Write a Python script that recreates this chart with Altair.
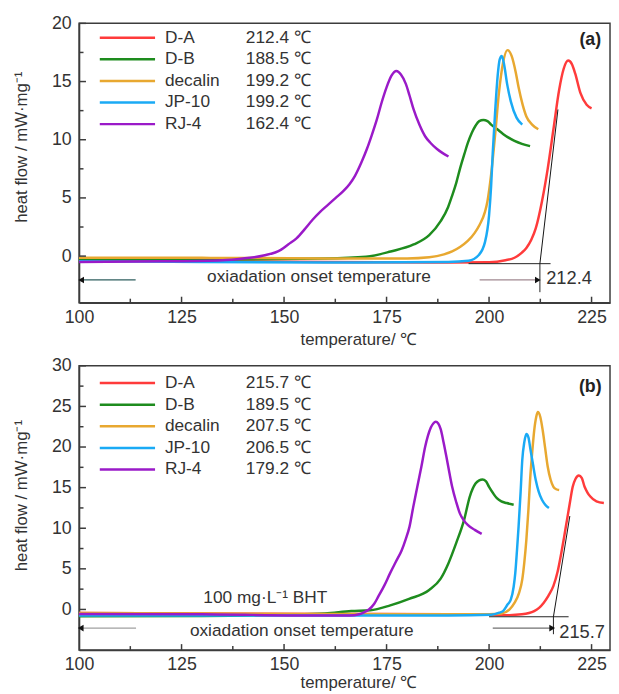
import altair as alt
import pandas as pd

FONT = "Liberation Sans"
TEXT = "#333333"
FRAME = "#3c3c3c"

names = ["D-A", "D-B", "decalin", "JP-10", "RJ-4"]
colors = ["#ff3b3b", "#1e8c1e", "#e8a830", "#1aaaf5", "#9a1ac8"]
onset_a = ["212.4 ℃", "188.5 ℃", "199.2 ℃", "199.2 ℃", "162.4 ℃"]
onset_b = ["215.7 ℃", "189.5 ℃", "207.5 ℃", "206.5 ℃", "179.2 ℃"]

# ---------------- panel (a) curves ----------------
a_DA_T = [100, 130, 160, 190, 200, 204, 206.2, 208, 209.1, 210.3, 211.4, 212.9, 214.3, 215.7, 217.1, 218.2, 219.3, 220.2, 221, 222.3, 223.8, 225]
a_DA_V = [-0.40, -0.45, -0.50, -0.55, -0.52, -0.35, -0.14, 0.3, 0.7, 1.4, 2.4, 4.7, 7.5, 10.9, 14.3, 16.1, 16.8, 16.5, 15.7, 14.0, 13.0, 12.7]
a_DB_T = [100, 130, 160, 170, 176, 181.6, 185.4, 188.2, 190, 191, 192, 192.9, 194, 194.8, 195.8, 196.7, 197.6, 198.6, 199.6, 200.5, 202, 203.4, 206.2, 208, 210]
a_DB_V = [-0.3, -0.3, -0.2, -0.05, 0.4, 1.0, 1.8, 3.0, 4.2, 5.2, 6.3, 7.5, 8.8, 9.7, 10.6, 11.2, 11.6, 11.7, 11.6, 11.3, 10.9, 10.5, 9.9, 9.65, 9.45]
a_DEC_T = [100, 130, 160, 180, 185.4, 189, 191, 193, 194.8, 196.5, 197.7, 199, 199.6, 200.5, 201.5, 202.4, 203.4, 204.5, 205.5, 206.5, 207.2, 208.2, 209.1, 210.5, 212]
a_DEC_V = [-0.15, -0.15, -0.2, -0.2, -0.1, 0.15, 0.4, 0.8, 1.3, 2.0, 2.7, 3.8, 4.7, 7.0, 10.5, 14.0, 16.6, 17.7, 17.2, 15.8, 14.5, 13.0, 12.0, 11.3, 10.9]
a_JP_T = [100, 130, 160, 190, 195, 197.5, 199, 200, 200.5, 200.9, 201.5, 202.1, 202.6, 203.1, 203.7, 204.4, 205.3, 206.7, 208.1]
a_JP_V = [-0.45, -0.5, -0.55, -0.5, -0.4, 0.1, 1.2, 3.5, 6.0, 8.9, 12.5, 15.5, 16.9, 17.2, 16.4, 14.8, 13.3, 11.9, 11.3]
a_RJ_T = [100, 120, 135, 140, 145, 149.3, 151, 153.1, 155, 156.9, 158.8, 160.7, 162.6, 164.5, 166, 167.3, 168.8, 170.2, 171.4, 172.6, 173.8, 175, 176.2, 177.4, 178.5, 179.7, 180.6, 181.6, 183, 184.4, 185.8, 187.3, 188.7, 190.1]
a_RJ_V = [-0.5, -0.45, -0.35, -0.2, 0.05, 0.56, 1.0, 1.55, 2.3, 3.1, 3.8, 4.4, 5.0, 5.6, 6.2, 6.9, 8.0, 9.2, 10.4, 11.7, 13.2, 14.5, 15.5, 15.9, 15.6, 14.8, 13.8, 12.6, 11.3, 10.3, 9.7, 9.2, 8.85, 8.56]

# ---------------- panel (b) curves ----------------
b_DA_T = [100, 130, 160, 190, 200, 205, 208, 211, 212.2, 213.3, 214.5, 215.7, 216.7, 217.6, 218.3, 219, 219.7, 220.4, 221.1, 221.9, 222.6, 223.3, 224, 224.7, 226.2, 228]
b_DA_V = [-0.45, -0.5, -0.55, -0.6, -0.65, -0.7, -0.6, -0.2, 0.2, 0.8, 1.7, 2.9, 4.6, 6.9, 8.9, 11.0, 13.1, 15.1, 16.1, 16.5, 16.2, 15.1, 14.4, 13.9, 13.3, 13.1]
b_DB_T = [100, 130, 150, 160, 166.4, 171, 175.9, 180.5, 185.4, 188.2, 190.1, 192, 193.9, 195.3, 196.7, 197.6, 198.4, 199.2, 200, 201, 201.9, 203, 204.3, 206]
b_DB_V = [-0.85, -0.8, -0.65, -0.5, -0.2, -0.1, 0.5, 1.3, 2.4, 3.8, 5.7, 8.2, 11.0, 13.9, 15.5, 15.9, 16.0, 15.8, 15.1, 14.3, 13.7, 13.3, 13.1, 12.9]
b_DEC_T = [100, 130, 160, 190, 200, 203, 205, 206.2, 207.3, 208.1, 208.6, 209.1, 209.6, 210, 210.5, 211, 211.5, 211.9, 212.5, 213.1, 213.7, 214.3, 215, 215.7, 216.4, 217.1]
b_DEC_V = [-0.45, -0.5, -0.55, -0.6, -0.6, -0.5, 0.0, 0.8, 2.0, 3.7, 5.8, 8.6, 12.3, 15.9, 19.2, 22.0, 23.7, 24.3, 23.7, 22.0, 19.8, 17.6, 16.0, 15.1, 14.8, 14.7]
b_JP_T = [100, 130, 160, 190, 200.5, 202.5, 203.4, 204.5, 205.3, 206.0, 206.4, 206.8, 207.2, 207.7, 208.1, 208.6, 209.1, 209.6, 210, 210.7, 211.4, 212.1, 212.9, 213.7, 214.6]
b_JP_V = [-0.75, -0.75, -0.75, -0.75, -0.65, -0.4, -0.2, 0.6, 1.2, 2.8, 4.5, 7.2, 10.2, 14.5, 18.4, 20.6, 21.6, 21.2, 20.0, 17.9, 15.9, 14.5, 13.5, 12.9, 12.5]
b_RJ_T = [100, 130, 160, 166, 168.3, 169.5, 170.7, 172, 173, 174.5, 175.9, 177.3, 178.7, 179.7, 180.6, 181.5, 182.5, 183.5, 184.4, 185.1, 185.8, 186.4, 187, 187.6, 188.2, 188.9, 189.6, 190.3, 191, 192, 192.9, 193.8, 194.8, 196.5, 198.2]
b_RJ_V = [-0.55, -0.6, -0.75, -0.75, -0.6, -0.35, 0.0, 0.7, 1.6, 3.0, 4.5, 5.9, 7.3, 8.7, 10.2, 12.6, 15.1, 17.6, 20.0, 21.4, 22.4, 22.9, 23.1, 22.9, 22.2, 20.6, 18.8, 16.9, 15.1, 13.2, 11.8, 11.0, 10.4, 9.8, 9.3]

# onset construction lines (T, V)
a_base_T = [195, 215]
a_base_V = [-0.65, -0.65]
a_mark_T = [212.4, 212.4]
a_mark_V = [-0.65, -3.1]
a_tan_T = [212.4, 216.8]
a_tan_V = [-0.65, 12.6]
b_base_T = [200, 219.4]
b_base_V = [-0.9, -0.9]
b_mark_T = [215.7, 215.7]
b_mark_V = [-0.85, -3.05]
b_tan_T = [215.7, 219.7]
b_tan_V = [-0.9, 11.5]

# arrows: shaft start T, head T, level V
a_arrows_T0 = [113.8, 197.7]
a_arrows_T1 = [100.5, 211.9]
a_arrow_V = -2.05
b_arrows_T0 = [113.9, 200.9]
b_arrows_T1 = [100.4, 215.4]
b_arrow_V = -2.3
arrow_colors_a = ["#2f5f5f", "#a08890"]
arrow_colors_b = ["#a0a0a0", "#707070"]

x_major = [100, 125, 150, 175, 200, 225]
x_tick_major = [125, 150, 175, 200, 225]
x_tick_minor = [112.5, 137.5, 162.5, 187.5, 212.5]
a_y_major = [0, 5, 10, 15, 20]
a_y_minor = [2.5, 7.5, 12.5, 17.5]
b_y_major = [0, 5, 10, 15, 20, 25, 30]
b_y_minor = [2.5, 7.5, 12.5, 17.5, 22.5, 27.5]

W = 538


def curves_df(series):
    rows = []
    for name, ts, vs in series:
        for t, v in zip(ts, vs):
            rows.append({"S": name, "T": t, "V": v})
    return pd.DataFrame(rows)


def panel(series, onsets, ydom, H, y_major, y_minor, base, mark, tan,
          arrT0, arrT1, arrV, arr_cols, onset_text, onset_T, onset_V,
          ox_T, ox_V, tag, tag_y, title_y, leg_top, xt_pad, extra=None):
    xs = alt.Scale(domain=[100, 229.5], nice=False, zero=False)
    ys = alt.Scale(domain=ydom, nice=False, zero=False)
    cs = alt.Scale(domain=names, range=colors)

    X = lambda: alt.X("T:Q", scale=xs)
    Y = lambda: alt.Y("V:Q", scale=ys)

    lines = alt.Chart(curves_df(series)).mark_line(
        strokeWidth=2.5, interpolate="monotone"
    ).encode(
        x=alt.X("T:Q", scale=xs, axis=alt.Axis(
            values=x_major, title="temperature/ ℃", titleX=283, labelFlush=False,
            labelPadding=6, titlePadding=xt_pad)),
        y=alt.Y("V:Q", scale=ys, axis=alt.Axis(
            values=y_major, title="heat flow / mW·mg⁻¹", titleY=title_y,
            labelPadding=8, titlePadding=21, labelFlush=False)),
        color=alt.Color("S:N", scale=cs, legend=None),
        detail="S:N",
    )

    def seg(ts, vs, color, sw):
        return alt.Chart(pd.DataFrame({"T": ts, "V": vs})).mark_line(
            color=color, strokeWidth=sw
        ).encode(x=X(), y=Y())

    layers = [lines,
              seg(base[0], base[1], "#222222", 1),
              seg(mark[0], mark[1], "#222222", 1),
              seg(tan[0], tan[1], "#111111", 1)]

    arr_df = pd.DataFrame({"T": arrT0, "T2": arrT1, "V": [arrV] * 2, "c": arr_cols})
    layers.append(alt.Chart(arr_df).mark_rule(strokeWidth=1.2).encode(
        x=X(), x2="T2:Q", y=Y(),
        color=alt.Color("c:N", scale=None)))
    head_df = pd.DataFrame({"T": arrT1, "V": [arrV] * 2,
                            "shape": ["triangle-left", "triangle-right"]})
    layers.append(alt.Chart(head_df).mark_point(
        filled=True, color="#111111", size=45, opacity=1).encode(
        x=X(), y=Y(), shape=alt.Shape("shape:N", scale=None)))

    # text annotations
    ann = pd.DataFrame({"T": [ox_T], "V": [ox_V], "txt": ["oxiadation onset temperature"]})
    layers.append(alt.Chart(ann).mark_text(font=FONT, fontSize=17.5, color=TEXT).encode(
        x=X(), y=Y(), text="txt:N"))
    on = pd.DataFrame({"T": [onset_T], "V": [onset_V], "txt": [onset_text]})
    layers.append(alt.Chart(on).mark_text(font=FONT, fontSize=18.5, color=TEXT).encode(
        x=X(), y=Y(), text="txt:N"))
    if extra is not None:
        ex = pd.DataFrame({"T": [extra[0]], "V": [extra[1]], "txt": [extra[2]]})
        layers.append(alt.Chart(ex).mark_text(font=FONT, fontSize=17.5, color=TEXT, align="left").encode(
            x=X(), y=Y(), text="txt:N"))

    # inward ticks
    def xt(vals, ln):
        return alt.Chart(pd.DataFrame({"T": vals})).mark_rule(color=FRAME, strokeWidth=1.5).encode(
            x=X(), y=alt.value(H), y2=alt.value(H - ln))

    def yt(vals, ln):
        return alt.Chart(pd.DataFrame({"V": vals})).mark_rule(color=FRAME, strokeWidth=1.5).encode(
            y=Y(), x=alt.value(0), x2=alt.value(ln))

    layers += [xt(x_tick_major, 6), xt(x_tick_minor, 4), yt(y_major, 7), yt(y_minor, 4.5)]

    # legend
    leg = pd.DataFrame({"S": names, "on": onsets, "i": list(range(5))})
    base_leg = alt.Chart(leg).transform_calculate(ly=f"{leg_top} + 21.9 * datum.i")
    layers.append(base_leg.mark_rule(strokeWidth=2.5).encode(
        x=alt.value(21), x2=alt.value(77),
        y=alt.Y("ly:Q", scale=None, axis=None),
        color=alt.Color("S:N", scale=cs, legend=None)))
    layers.append(base_leg.mark_text(font=FONT, fontSize=17.5, color=TEXT, align="left").encode(
        x=alt.value(87), y=alt.Y("ly:Q", scale=None, axis=None), text="S:N"))
    layers.append(base_leg.mark_text(font=FONT, fontSize=17.5, color=TEXT, align="left").encode(
        x=alt.value(169), y=alt.Y("ly:Q", scale=None, axis=None), text="on:N"))

    tagdf = pd.DataFrame({"txt": [tag]})
    layers.append(alt.Chart(tagdf).mark_text(font=FONT, fontSize=18, fontWeight="bold",
                                             color="#222222").encode(
        x=alt.value(518), y=alt.value(tag_y), text="txt:N"))

    return alt.layer(*layers).properties(width=W, height=H)


pa = panel(
    [("D-A", a_DA_T, a_DA_V), ("D-B", a_DB_T, a_DB_V), ("decalin", a_DEC_T, a_DEC_V),
     ("JP-10", a_JP_T, a_JP_V), ("RJ-4", a_RJ_T, a_RJ_V)],
    onset_a, [-4, 20], 283, a_y_major, a_y_minor,
    (a_base_T, a_base_V), (a_mark_T, a_mark_V), (a_tan_T, a_tan_V),
    a_arrows_T0, a_arrows_T1, a_arrow_V, arrow_colors_a,
    "212.4", 219.5, -1.9, 158.5, -1.84, "(a)", 17, 125, 14.5, 5)

pb = panel(
    [("D-A", b_DA_T, b_DA_V), ("D-B", b_DB_T, b_DB_V), ("decalin", b_DEC_T, b_DEC_V),
     ("JP-10", b_JP_T, b_JP_V), ("RJ-4", b_RJ_T, b_RJ_V)],
    onset_b, [-5, 30], 288, b_y_major, b_y_minor,
    (b_base_T, b_base_V), (b_mark_T, b_mark_V), (b_tan_T, b_tan_V),
    b_arrows_T0, b_arrows_T1, b_arrow_V, arrow_colors_b,
    "215.7", 222.7, -2.8, 154.3, -2.65, "(b)", 22, 131, 17.5, 1,
    extra=(130.3, 1.4, "100 mg·L⁻¹  BHT"))

chart = alt.vconcat(pa, pb, spacing=8).properties(
    padding={"left": 4, "top": 1, "right": 0, "bottom": 0}
).configure_view(stroke=FRAME, strokeWidth=1.5).configure_axis(
    domainColor=FRAME, domainWidth=1.5, ticks=False, grid=False,
    labelFont=FONT, titleFont=FONT, labelFontSize=18, titleFontSize=17,
    labelColor=TEXT, titleColor=TEXT, titleFontWeight="normal"
)

chart.save("out.html", embed_options={"renderer": "svg", "actions": False})
